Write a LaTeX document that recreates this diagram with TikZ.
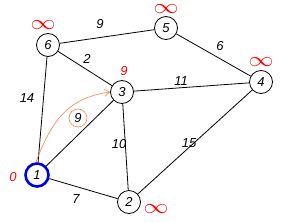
\documentclass[tikz,border=0pt]{standalone}
\usepackage{fontspec}
\setmainfont{Liberation Sans}
\usetikzlibrary{arrows.meta}
\definecolor{arcorange}{RGB}{250,130,70}
\definecolor{nodeblue}{RGB}{0,0,230}
\tikzset{
  vertex/.style={circle,draw,line width=0.8pt,minimum size=23pt,inner sep=0pt,font=\fontsize{13}{15}\selectfont\itshape},
  weight/.style={inner sep=0pt,font=\fontsize{13}{15}\selectfont\itshape},
  dist/.style={inner sep=0pt,text=red,font=\fontsize{13}{15}\selectfont\itshape},
  infmark/.style={anchor=base,inner sep=0pt,xscale=1.2,text=red,font=\fontsize{22}{22}\selectfont}
}
\begin{document}
\begin{tikzpicture}[x=1pt,y=-1pt,line width=0.8pt]
    \useasboundingbox (0,0) rectangle (283,222);
    \node[vertex,draw=nodeblue,line width=2.6pt] (v1) at (37,175) {1};
    \node[vertex] (v2) at (129,202) {2};
    \node[vertex] (v3) at (122,92) {3};
    \node[vertex] (v4) at (261,82) {4};
    \node[vertex] (v5) at (166,28) {5};
    \node[vertex] (v6) at (48,45) {6};
    \draw (v1) -- (v6);
    \draw (v6) -- (v5);
    \draw (v6) -- (v3);
    \draw (v5) -- (v4);
    \draw (v3) -- (v4);
    \draw (v1) -- (v3);
    \draw (v3) -- (v2);
    \draw (v1) -- (v2);
    \draw (v2) -- (v4);
    \node[weight] (w14) at (27,98) {14};
    \node[weight] (w9) at (100,24) {9};
    \node[weight] (w2) at (87,59) {2};
    \node[weight] (w6) at (220,46) {6};
    \node[weight] (w11) at (181,81) {11};
    \node[weight] (w10) at (119,144) {10};
    \node[weight] (w15) at (189,143) {15};
    \node[weight] (w7) at (76,199) {7};
    % relaxed edge 1 -> 3
    \node[weight,circle,draw=arcorange,line width=0.6pt,minimum size=18pt] (w13) at (78,118) {9};
    \draw[arcorange,line width=0.6pt,-{Straight Barb[length=5pt,width=7pt]}] (v1.95) .. controls (52,120) and (68,98) .. (v3.west);
    \node[dist] (d3) at (124,71) {9};
    \node[dist] (d1) at (13,177) {0};
    \node[infmark] (d6) at (43,30) {$\infty$};
    \node[infmark] (d5) at (166,14) {$\infty$};
    \node[infmark] (d4) at (261,66) {$\infty$};
    \node[infmark] (d2) at (156,213) {$\infty$};
\end{tikzpicture}
\end{document}
